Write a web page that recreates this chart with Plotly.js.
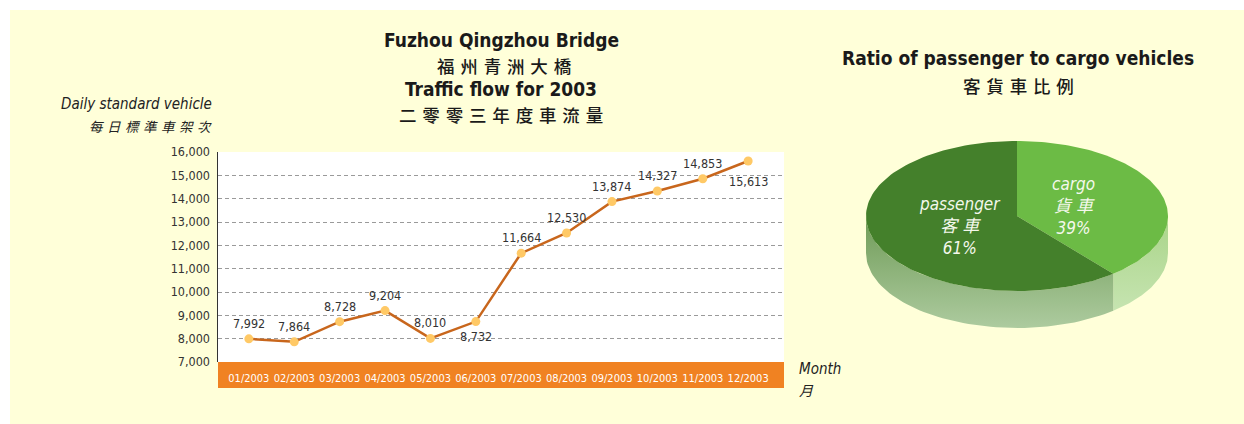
<!DOCTYPE html>
<html>
<head>
<meta charset="utf-8">
<script src="https://cdn.plot.ly/plotly-3.0.1.min.js"></script>
<style>
html,body{margin:0;padding:0;background:#ffffff;}
#chart{position:absolute;left:10px;top:10px;width:1234px;height:414px;}
</style>
</head>
<body>
<div id="chart"></div>
<script>
// ---- data ----
const months = ['01/2003','02/2003','03/2003','04/2003','05/2003','06/2003','07/2003','08/2003','09/2003','10/2003','11/2003','12/2003'];
const dailyVehicles = [7992, 7864, 8728, 9204, 8010, 8732, 11664, 12530, 13874, 14327, 14853, 15613];
const labelSide = ['above','above','above','above','above','below','above','above','above','above','above','below'];
const yTickValues = [7000, 8000, 9000, 10000, 11000, 12000, 13000, 14000, 15000, 16000];

const pieNamesEn = ['cargo', 'passenger'];
const pieNamesZh = ['貨車', '客車'];
const pieValues = [39, 61];

// ---- styling / geometry ----
const NARROW = '"Liberation Sans Narrow", "DejaVu Sans Condensed", "Roboto Condensed", "Liberation Sans", Arial, sans-serif';
const CJK = '"Noto Sans CJK TC", "Noto Sans CJK SC", sans-serif';
const MIX = '"Liberation Sans Narrow", "DejaVu Sans Condensed", "Noto Sans CJK TC", sans-serif';
const SP = '\u2004';
const spaced = s => Array.from(s).join(SP);
const W = 1234, H = 414, OX = 10, OY = 10;
const px = X => (X - OX) / W;
const py = Y => (H + OY - Y) / H;

// pie geometry (pixel-like coordinates on the second subplot)
const PIE = {cx: 1017, cy: 216, rx: 151, ry: 75, depth: 37};
const pieTop = ['#6cbb45', '#44802b'];
const pieSide = [['#a9d488', '#cbe7b8'], ['#6f9b57', '#adcb9f']];

function ellPt(phiDeg, r) {
  const a = phiDeg * Math.PI / 180;
  return [PIE.cx + PIE.rx * r * Math.sin(a), PIE.cy - PIE.ry * r * Math.cos(a)];
}

const total = pieValues.reduce((a, b) => a + b, 0);
const slices = [];
let acc = 0;
pieValues.forEach((v, i) => {
  const a0 = acc / total * 360;
  acc += v;
  const a1 = acc / total * 360;
  slices.push({a0, a1, i});
});

const traces = [];

// side walls (front half only: angles 90..270)
slices.forEach(s => {
  const lo = Math.max(s.a0, 90), hi = Math.min(s.a1, 270);
  if (hi <= lo) return;
  const xs = [], ys = [];
  const n = 60;
  for (let k = 0; k <= n; k++) {
    const p = ellPt(lo + (hi - lo) * k / n, 1);
    xs.push(p[0]); ys.push(p[1]);
  }
  for (let k = n; k >= 0; k--) {
    const p = ellPt(lo + (hi - lo) * k / n, 1);
    xs.push(p[0]); ys.push(p[1] + PIE.depth);
  }
  xs.push(xs[0]); ys.push(ys[0]);
  traces.push({
    type: 'scatter', mode: 'lines', x: xs, y: ys, xaxis: 'x2', yaxis: 'y2',
    fill: 'toself', line: {width: 0, color: 'rgba(0,0,0,0)'},
    fillgradient: {type: 'vertical', start: PIE.cy, stop: PIE.cy + PIE.ry + PIE.depth,
      colorscale: [[0, pieSide[s.i][0]], [1, pieSide[s.i][1]]]},
    hoverinfo: 'skip', showlegend: false
  });
});

// top faces
slices.forEach(s => {
  const xs = [PIE.cx], ys = [PIE.cy];
  const n = 120;
  for (let k = 0; k <= n; k++) {
    const p = ellPt(s.a0 + (s.a1 - s.a0) * k / n, 1);
    xs.push(p[0]); ys.push(p[1]);
  }
  xs.push(PIE.cx); ys.push(PIE.cy);
  traces.push({
    type: 'scatter', mode: 'lines', x: xs, y: ys, xaxis: 'x2', yaxis: 'y2',
    fill: 'toself', fillcolor: pieTop[s.i], line: {width: 0, color: pieTop[s.i]},
    hoverinfo: 'skip', showlegend: false
  });
});

// line chart
traces.push({
  type: 'scatter', mode: 'lines+markers',
  x: months, y: dailyVehicles,
  line: {color: '#c8661c', width: 2.5},
  marker: {color: '#ffc966', size: 9},
  cliponaxis: false, hoverinfo: 'x+y', showlegend: false
});

const annotations = [];

// data labels
dailyVehicles.forEach((v, i) => {
  const below = labelSide[i] === 'below';
  annotations.push({
    xref: 'x', yref: 'y', x: months[i], y: v, showarrow: false,
    text: v.toLocaleString('en-US'), xanchor: 'center', yanchor: 'middle',
    yshift: below ? (i === months.length - 1 ? -20 : -15) : 15.5,
    font: {family: NARROW, size: 12.5, color: '#333333'}
  });
});

function ann(text, X, Y, opts) {
  annotations.push(Object.assign({
    text: text, xref: 'paper', yref: 'paper', x: px(X), y: py(Y),
    xanchor: 'center', yanchor: 'middle', showarrow: false,
    font: {family: NARROW, size: 18, color: '#1a1a1a'}
  }, opts || {}));
}

// main title
ann('<b>Fuzhou Qingzhou Bridge</b>', 501, 40, {font: {family: NARROW, size: 19, color: '#1a1a1a'}});
ann(spaced('福州青洲大橋'), 504, 65, {font: {family: CJK, size: 17.5, color: '#1a1a1a', weight: 500}});
ann('<b>Traffic flow for 2003</b>', 501, 89, {font: {family: NARROW, size: 19, color: '#1a1a1a'}});
ann(spaced('二零零三年度車流量'), 501, 114, {font: {family: CJK, size: 17.5, color: '#1a1a1a', weight: 500}});

// y axis title
ann('Daily standard vehicle', 214, 104, {xanchor: 'right', font: {family: NARROW, size: 15, color: '#222', style: 'italic'}});
ann(spaced('每日標準車架次'), 214, 126, {xanchor: 'right', font: {family: CJK, size: 13.5, color: '#222', style: 'italic'}});

// x axis title
ann('Month', 797, 369, {xanchor: 'left', font: {family: NARROW, size: 15, color: '#222', style: 'italic'}});
ann('月', 797, 390, {xanchor: 'left', font: {family: CJK, size: 14, color: '#222', style: 'italic'}});

// pie title
ann('<b>Ratio of passenger to cargo vehicles</b>', 1018, 58, {font: {family: NARROW, size: 19, color: '#1a1a1a'}});
ann(spaced('客貨車比例'), 1018, 85, {font: {family: CJK, size: 17.5, color: '#1a1a1a', weight: 500}});

// pie labels
slices.forEach(s => {
  const mid = (s.a0 + s.a1) / 2;
  const p = ellPt(mid, 0.4);
  const pct = Math.round(pieValues[s.i] / total * 100) + '%';
  annotations.push({
    xref: 'x2', yref: 'y2', x: p[0], y: p[1], showarrow: false,
    xanchor: 'center', yanchor: 'middle', align: 'center',
    text: pieNamesEn[s.i] + '<br>' + spaced(pieNamesZh[s.i]) + '<br>' + pct,
    font: {family: MIX, size: 17, color: '#f4f8ec', style: 'italic'}
  });
});

const layout = {
  width: W, height: H,
  margin: {l: 0, r: 0, t: 0, b: 0},
  paper_bgcolor: '#ffffd9',
  plot_bgcolor: 'rgba(0,0,0,0)',
  showlegend: false,
  xaxis: {
    domain: [px(218), px(784)], type: 'category', range: [-0.68, 11.79],
    showgrid: false, zeroline: false, showline: false,
    ticks: 'outside', ticklen: 6, tickcolor: 'rgba(0,0,0,0)', tickangle: 0,
    tickfont: {family: NARROW, size: 11, color: '#ffffff'}, fixedrange: true
  },
  yaxis: {
    domain: [py(362), py(152)], range: [7000, 16000],
    tickmode: 'array', tickvals: yTickValues, ticktext: yTickValues.map(v => v.toLocaleString('en-US')),
    showgrid: true, gridcolor: '#9a9a9a', griddash: '4px,3px', gridwidth: 1,
    showline: true, linecolor: '#333333', linewidth: 1.5, zeroline: false,
    ticks: '', ticklabelstandoff: 4,
    tickfont: {family: NARROW, size: 12.5, color: '#333333'}, fixedrange: true
  },
  xaxis2: {
    domain: [px(840), px(1200)], range: [840, 1200], visible: false, fixedrange: true
  },
  yaxis2: {
    domain: [py(340), py(130)], range: [340, 130], visible: false, fixedrange: true
  },
  shapes: [
    {type: 'rect', xref: 'paper', yref: 'paper', x0: px(218), x1: px(784), y0: py(362), y1: py(152),
     fillcolor: '#ffffff', line: {width: 0}, layer: 'below'},
    {type: 'rect', xref: 'paper', yref: 'paper', x0: px(218), x1: px(784), y0: py(388), y1: py(362),
     fillcolor: '#f08222', line: {width: 0}, layer: 'below'}
  ],
  annotations: annotations
};

Plotly.newPlot('chart', traces, layout, {displayModeBar: false, staticPlot: true});
</script>
</body>
</html>
